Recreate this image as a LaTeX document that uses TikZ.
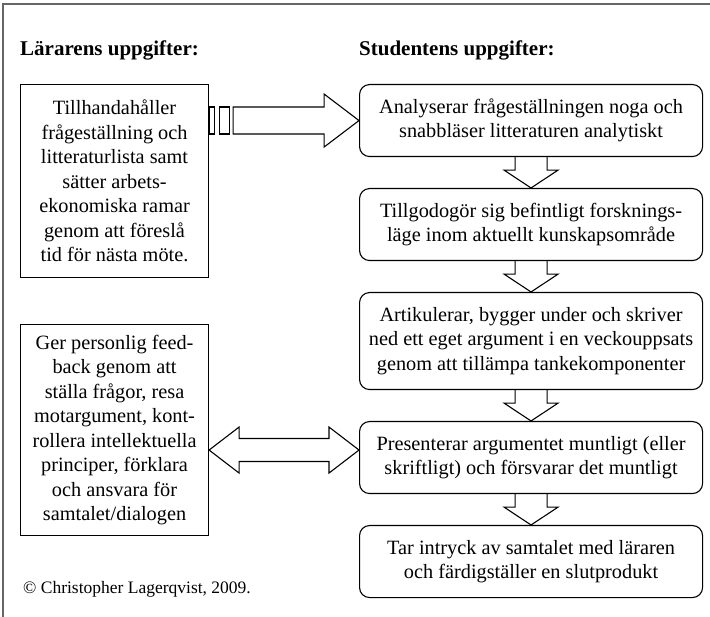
\documentclass[tikz,border=0pt]{standalone}
\usepackage{fontspec}
\setmainfont{Liberation Serif}
\usetikzlibrary{calc}
\newcommand{\bodyfont}{\fontsize{20.3}{24.5}\selectfont}
\newcommand{\flowarrow}[2]{\draw[blockarrow] ($(#1.south)+(-16,0)$) -- ($(#1.south)+(-16,13)$) -- ($(#1.south)+(-27,13)$) -- (#2.north) -- ($(#1.south)+(27,13)$) -- ($(#1.south)+(16,13)$) -- ($(#1.south)+(16,0)$);}
\tikzset{
  teacherbox/.style={draw, line width=1.1pt, anchor=north west, align=center, inner sep=0pt, minimum width=188pt, font=\bodyfont},
  studentbox/.style={draw, line width=1.1pt, rounded corners=10pt, anchor=north west, align=center, inner sep=0pt, minimum width=343pt, minimum height=72pt, font=\bodyfont},
  blockarrow/.style={draw, line width=1.1pt, line join=miter},
  heading/.style={anchor=base west, inner sep=0pt, font=\bfseries\fontsize{21}{25}\selectfont}
}
\begin{document}
\begin{tikzpicture}[x=1pt, y=-1pt]
  \useasboundingbox (0,0) rectangle (710,617);
  % frame
  \draw[black!60, line width=1.5pt] (3,617) -- (3,4) -- (710,4);
  % headings
  \node[heading] (headteach) at (20,56) {Lärarens uppgifter:};
  \node[heading] (headstud) at (359,56) {Studentens uppgifter:};
  % teacher column
  \node[teacherbox, minimum height=193pt] (teach1) at (20,84)
    {Tillhandahåller\\frågeställning och\\litteraturlista samt\\sätter arbets-\\ekonomiska ramar\\genom att föreslå\\tid för nästa möte.};
  \node[teacherbox, minimum height=211pt] (teach2) at (20,324)
    {Ger personlig feed-\\back genom att\\ställa frågor, resa\\motargument, kont-\\rollera intellektuella\\principer, förklara\\och ansvara för\\samtalet/dialogen};
  % student column
  \node[studentbox] (stud1) at (359,84)
    {Analyserar frågeställningen noga och\\snabbläser litteraturen analytiskt};
  \node[studentbox] (stud2) at (359,188)
    {Tillgodogör sig befintligt forsknings-\\läge inom aktuellt kunskapsområde};
  \node[studentbox, minimum height=97pt] (stud3) at (359,292)
    {Artikulerar, bygger under och skriver\\ned ett eget argument i en veckouppsats\\genom att tillämpa tankekomponenter};
  \node[studentbox] (stud4) at (359,421)
    {Presenterar argumentet muntligt (eller\\skriftligt) och försvarar det muntligt};
  \node[studentbox] (stud5) at (359,525)
    {Tar intryck av samtalet med läraren\\och färdigställer en slutprodukt};
  % arrows between the student steps
  \flowarrow{stud1}{stud2}
  \flowarrow{stud2}{stud3}
  \flowarrow{stud3}{stud4}
  \flowarrow{stud4}{stud5}
  % striped arrow teacher -> student
  \coordinate (from1) at (teach1.east |- stud1.west);
  \draw[blockarrow] ($(from1)+(0,-13.5)$) rectangle ($(from1)+(5,13.5)$);
  \draw[blockarrow] ($(from1)+(10,-13.5)$) rectangle ($(from1)+(20,13.5)$);
  \draw[blockarrow] ($(from1)+(24,-13.5)$) -- ($(from1)+(115,-13.5)$) -- ($(from1)+(115,-26.5)$)
    -- (stud1.west) -- ($(from1)+(115,26.5)$) -- ($(from1)+(115,13.5)$) -- ($(from1)+(24,13.5)$) -- cycle;
  % double arrow teacher <-> student
  \coordinate (from2) at ($(teach2.east |- stud4.west)+(0,-7.5)$);
  \coordinate (to2) at ($(stud4.west)+(0,-7.5)$);
  \draw[blockarrow] (from2) -- ($(from2)+(30,-23)$) -- ($(from2)+(30,-11.5)$) -- ($(to2)+(-30,-11.5)$)
    -- ($(to2)+(-30,-23)$) -- (to2) -- ($(to2)+(-30,23)$) -- ($(to2)+(-30,11.5)$)
    -- ($(from2)+(30,11.5)$) -- ($(from2)+(30,23)$) -- cycle;
  % copyright
  \node[anchor=base west, inner sep=0pt, font=\fontsize{17.5}{20}\selectfont] (copy) at (23,593)
    {© Christopher Lagerqvist, 2009.};
\end{tikzpicture}
\end{document}
